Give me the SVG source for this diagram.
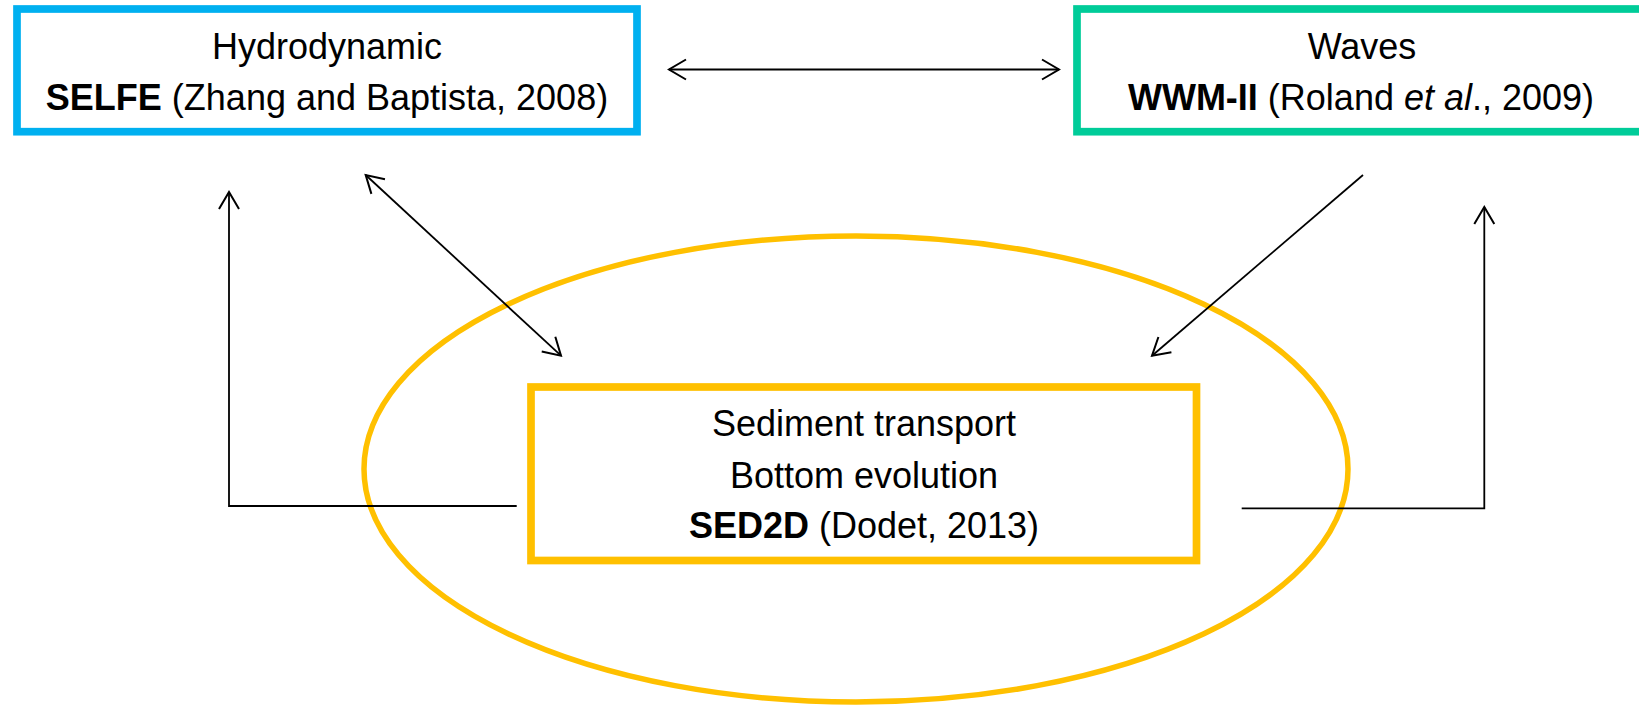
<svg xmlns="http://www.w3.org/2000/svg" width="1639" height="705" viewBox="0 0 1639 705">
<style>
.box{fill:#fff;stroke-width:7.7}
.t{font-family:"Liberation Sans",Arial,sans-serif;font-size:36px;fill:#000;text-anchor:middle}
.b{font-weight:bold}
.i{font-style:italic}
.c{fill:none;stroke:#000;stroke-width:1.8}
</style>
<defs>
<marker id="ah" markerUnits="userSpaceOnUse" viewBox="-20 -12 22 24" refX="0" refY="0" markerWidth="22" markerHeight="24" orient="auto-start-reverse" overflow="visible">
<path d="M-17,-10 L0,0 L-17,10" fill="none" stroke="#000" stroke-width="2"/>
</marker>
</defs>
<rect width="1639" height="705" fill="#fff"/>
<g id="ellipse">
<ellipse cx="856" cy="469" rx="492" ry="233" fill="none" stroke="#FFC000" stroke-width="5.5"/>
</g>
<g id="hydrodynamic">
<rect class="box" x="17" y="9" width="620" height="122.7" stroke="#00B0F0"/>
<text class="t" x="327" y="58.5">Hydrodynamic</text>
<text class="t" x="327" y="110"><tspan class="b">SELFE</tspan> (Zhang and Baptista, 2008)</text>
</g>
<g id="waves">
<rect class="box" x="1077" y="9" width="578" height="122.7" stroke="#00CC99"/>
<text class="t" x="1362" y="58.5">Waves</text>
<text class="t" x="1361" y="110"><tspan class="b">WWM-II</tspan> (Roland <tspan class="i">et al</tspan>., 2009)</text>
</g>
<g id="sediment">
<rect class="box" x="531" y="387" width="665.5" height="173.5" stroke="#FFC000"/>
<text class="t" x="864" y="436">Sediment transport</text>
<text class="t" x="864" y="488">Bottom evolution</text>
<text class="t" x="864" y="538"><tspan class="b">SED2D</tspan> (Dodet, 2013)</text>
</g>
<g id="connectors">
<path class="c" d="M669,69.5 L1059,69.5" marker-start="url(#ah)" marker-end="url(#ah)"/>
<path class="c" d="M516.7,506 H229 V192" marker-end="url(#ah)"/>
<path class="c" d="M365.7,175 L561,355.7" marker-start="url(#ah)" marker-end="url(#ah)"/>
<path class="c" d="M1363,175 L1152,355.7" marker-end="url(#ah)"/>
<path class="c" d="M1241.7,508.3 H1484.3 V207" marker-end="url(#ah)"/>
</g>
</svg>
